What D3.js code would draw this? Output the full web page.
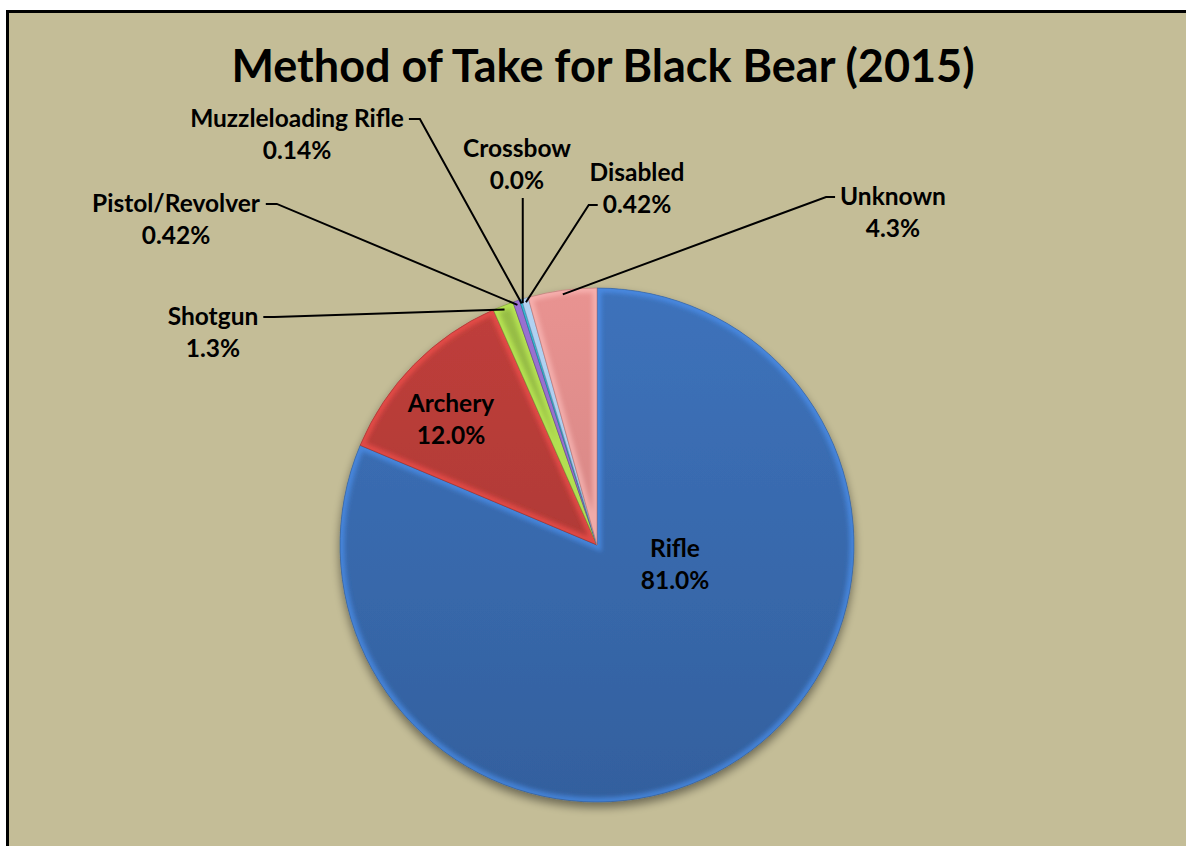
<!DOCTYPE html>
<html>
<head>
<meta charset="utf-8">
<script src="https://cdn.jsdelivr.net/npm/d3@7"></script>
<style>
  html, body { margin: 0; padding: 0; background: #ffffff; }
  svg { display: block; }
  text { font-family: Lato, "Open Sans", "DejaVu Sans", sans-serif; font-weight: 700; fill: #000; }
</style>
</head>
<body>
<svg id="chart" width="1186" height="846"></svg>
<script>
// Harvest share by method of take, percent of total
const categories = ["Rifle", "Archery", "Shotgun", "Pistol/Revolver", "Muzzleloading Rifle", "Crossbow", "Disabled", "Unknown"];
const shares = [81.0, 12.0, 1.3, 0.42, 0.14, 0.0, 0.42, 4.3];
const shareLabels = ["81.0%", "12.0%", "1.3%", "0.42%", "0.14%", "0.0%", "0.42%", "4.3%"];
const sliceColors = ["#3a6db3", "#b83c39", "#92b743", "#7b5ba8", "#2c96ae", "#f79646", "#8ea9d7", "#df8d8b"];
const chartTitle = "Method of Take for Black Bear (2015)";

const W = 1186, H = 846;
const cx = 597, cy = 545, R = 257;

const svg = d3.select("#chart");
const defs = svg.append("defs");

// page + framed chart area
svg.append("rect").attr("width", W).attr("height", H).attr("fill", "#ffffff");
svg.append("rect")
  .attr("x", 7.5).attr("y", 11.5).attr("width", W + 40).attr("height", H + 40)
  .attr("fill", "#c4bd97").attr("stroke", "#000").attr("stroke-width", 3);

svg.append("text")
  .attr("x", 603).attr("y", 82)
  .attr("text-anchor", "middle")
  .style("font-size", "45px")
  .text(chartTitle);

// soft shadow under the pie
const shadow = defs.append("filter").attr("id", "pieShadow")
  .attr("x", "-20%").attr("y", "-20%").attr("width", "140%").attr("height", "140%");
shadow.append("feGaussianBlur").attr("in", "SourceAlpha").attr("stdDeviation", 5).attr("result", "b");
shadow.append("feOffset").attr("in", "b").attr("dy", 5).attr("result", "o");
shadow.append("feComponentTransfer").attr("in", "o").attr("result", "s")
  .append("feFuncA").attr("type", "linear").attr("slope", 0.45);
const sm = shadow.append("feMerge");
sm.append("feMergeNode").attr("in", "s");
sm.append("feMergeNode").attr("in", "SourceGraphic");

// blur used for the soft rim highlight
defs.append("filter").attr("id", "rimBlur")
  .attr("x", "-10%").attr("y", "-10%").attr("width", "120%").attr("height", "120%")
  .append("feGaussianBlur").attr("stdDeviation", 2.2);

// vertical shading for each slice colour
sliceColors.forEach((c, i) => {
  const g = defs.append("linearGradient").attr("id", "grad" + i)
    .attr("gradientUnits", "userSpaceOnUse")
    .attr("x1", 0).attr("y1", -R).attr("x2", 0).attr("y2", R);
  g.append("stop").attr("offset", "0%").attr("stop-color", d3.color(c).brighter(0.12));
  g.append("stop").attr("offset", "100%").attr("stop-color", d3.color(c).darker(0.35));
});

const data = categories.map((name, i) => ({ name, value: shares[i], label: shareLabels[i], i }));

const pie = d3.pie().value(d => d.value).sort(null);
const arcs = pie(data);
const arc = d3.arc().innerRadius(0).outerRadius(R);
const drawn = arcs.filter(a => a.endAngle > a.startAngle);

const pieG = svg.append("g").attr("transform", `translate(${cx},${cy})`)
  .attr("filter", "url(#pieShadow)");

// clip shapes share the pie group's coordinates
drawn.forEach(a => {
  defs.append("clipPath").attr("id", "clip" + a.data.i)
    .append("path").attr("d", arc(a));
});

const sliceG = pieG.selectAll("g.slice").data(drawn).join("g").attr("class", "slice");

sliceG.append("path")
  .attr("d", arc)
  .attr("fill", d => `url(#grad${d.data.i})`);

// light bevel rim just inside each slice edge
sliceG.append("g")
  .attr("clip-path", d => `url(#clip${d.data.i})`)
  .append("path")
  .attr("d", arc)
  .attr("fill", "none")
  .attr("stroke", d => d3.color(sliceColors[d.data.i]).brighter(0.9))
  .attr("stroke-opacity", 0.6)
  .attr("stroke-width", 9)
  .attr("filter", "url(#rimBlur)");

sliceG.append("path")
  .attr("d", arc)
  .attr("fill", "none")
  .attr("stroke", d => d3.color(sliceColors[d.data.i]).darker(0.6))
  .attr("stroke-opacity", 0.7)
  .attr("stroke-width", 0.8);

// labels placed inside the large slices
const innerLabels = {
  "Rifle": { x: 675, y: 557 },
  "Archery": { x: 451, y: 412 }
};
// callout labels with leader lines; side says where the leader leaves the text
const calloutLabels = {
  "Shotgun": { x: 213, y: 325, side: "right", line: 0 },
  "Pistol/Revolver": { x: 176, y: 212, side: "right", line: 0 },
  "Muzzleloading Rifle": { x: 297, y: 127, side: "right", line: 0 },
  "Crossbow": { x: 517, y: 157, side: "bottom", line: 1 },
  "Disabled": { x: 637, y: 181, side: "left", line: 1 },
  "Unknown": { x: 893, y: 205, side: "left", line: 0 }
};
const lineGap = 32;
const fontSize = 24.5;

const labelG = svg.append("g");
const leaderG = svg.append("g");

arcs.forEach(a => {
  const name = a.data.name;
  const spot = innerLabels[name] || calloutLabels[name];
  if (!spot) return;
  const t = labelG.append("text")
    .attr("text-anchor", "middle")
    .style("font-size", fontSize + "px");
  const l1 = t.append("tspan").attr("x", spot.x).attr("y", spot.y).text(name);
  const l2 = t.append("tspan").attr("x", spot.x).attr("y", spot.y + lineGap).text(a.data.label);

  if (!calloutLabels[name]) return;
  // leader target: middle of the slice's outer edge
  const mid = (a.startAngle + a.endAngle) / 2;
  const tr = R - 4;
  const tx = cx + tr * Math.sin(mid), ty = cy - tr * Math.cos(mid);
  const bb = (spot.line === 0 ? l1 : l2).node().getBBox();
  let pts;
  if (spot.side === "right") {
    const y = bb.y + bb.height * 0.55;
    pts = [[bb.x + bb.width + 5, y], [bb.x + bb.width + 16, y], [tx, ty]];
  } else if (spot.side === "left") {
    const y = bb.y + bb.height * 0.55;
    pts = [[bb.x - 5, y], [bb.x - 14, y], [tx, ty]];
  } else {
    pts = [[tx, bb.y + bb.height + 4], [tx, ty]];
  }
  leaderG.append("path")
    .attr("d", d3.line()(pts))
    .attr("fill", "none")
    .attr("stroke", "#000")
    .attr("stroke-width", 2);
});
</script>
</body>
</html>
